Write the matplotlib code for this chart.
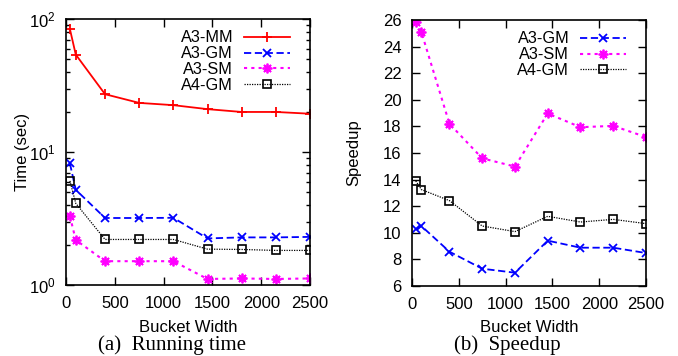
import matplotlib
matplotlib.use("Agg")
import matplotlib.pyplot as plt
from matplotlib.ticker import LogLocator, NullFormatter, MultipleLocator

plt.rcParams['font.family'] = ['Liberation Sans', 'DejaVu Sans']
plt.rcParams['mathtext.fontset'] = 'custom'
plt.rcParams['mathtext.rm'] = 'Liberation Sans'
plt.rcParams['mathtext.it'] = 'Liberation Sans:italic'
plt.rcParams['mathtext.bf'] = 'Liberation Sans:bold'

bucket = [40, 100, 400, 750, 1100, 1450, 1800, 2150, 2500]

time_a3_mm = [84, 54, 27.2, 23.4, 22.5, 21.0, 20.0, 20.0, 19.4]
time_a3_gm = [8.2, 5.2, 3.19, 3.19, 3.2, 2.24, 2.28, 2.28, 2.3]
time_a3_sm = [3.29, 2.18, 1.51, 1.51, 1.51, 1.11, 1.12, 1.11, 1.12]
time_a4_gm = [6.06, 4.11, 2.2, 2.2, 2.2, 1.86, 1.85, 1.82, 1.82]

speed_a3_gm = [10.26, 10.51, 8.58, 7.3, 7.0, 9.41, 8.88, 8.88, 8.48]
speed_a3_sm = [25.85, 25.1, 18.2, 15.6, 14.98, 18.97, 17.94, 18.04, 17.2]
speed_a4_gm = [13.9, 13.25, 12.42, 10.51, 10.09, 11.24, 10.81, 11.01, 10.69]

xticks = [0, 500, 1000, 1500, 2000, 2500]

fig = plt.figure(figsize=(6.78, 3.56), dpi=100)
ax1 = fig.add_axes([66/678, 1-285/356, (310-66)/678, (285-19)/356])
ax2 = fig.add_axes([412/678, 1-286/356, (646-412)/678, (286-20)/356])

star = (8, 2, 0)
sq = dict(marker='s', fillstyle='none', markersize=6, markeredgewidth=1.2)

ax1.plot(bucket, time_a3_mm, color='#ff0000', ls='-', lw=1.3, marker='+', ms=7, mew=1.3, label='A3-MM')
ax1.plot(bucket, time_a3_gm, color='#0000ff', ls=(0, (4, 2)), lw=1.3, marker='x', ms=6, mew=1.3, label='A3-GM')
ax1.plot(bucket, time_a3_sm, color='#ff00ff', ls=(0, (1.5, 2)), lw=1.5, marker=star, ms=7, mew=1.3, label='A3-SM')
ax1.plot(bucket, time_a4_gm, color='black', ls=(0, (1, 1)), lw=0.9, label='A4-GM', **sq)

ax1.set_yscale('log')
ax1.set_ylim(1, 100)
ax1.set_xlim(0, 2500)
ax1.set_xticks(xticks)
ax1.yaxis.set_minor_locator(LogLocator(base=10, subs=range(2, 10)))
ax1.yaxis.set_minor_formatter(NullFormatter())
ax1.set_xlabel('Bucket Width', fontsize=12)
ax1.set_ylabel('Time (sec)', fontsize=12)
ax1.xaxis.set_label_coords(0.5, -0.130)
ax1.yaxis.set_label_coords(-0.1475, 0.5)

ax2.plot(bucket, speed_a3_gm, color='#0000ff', ls=(0, (4, 2)), lw=1.3, marker='x', ms=6, mew=1.3, label='A3-GM')
ax2.plot(bucket, speed_a3_sm, color='#ff00ff', ls=(0, (1.5, 2)), lw=1.5, marker=star, ms=7, mew=1.3, label='A3-SM')
ax2.plot(bucket, speed_a4_gm, color='black', ls=(0, (1, 1)), lw=0.9, label='A4-GM', **sq)
ax2.set_xlim(0, 2500)
ax2.set_ylim(6, 26)
ax2.set_xticks(xticks)
ax2.yaxis.set_major_locator(MultipleLocator(2))
ax2.set_xlabel('Bucket Width', fontsize=12)
ax2.set_ylabel('Speedup', fontsize=12)
ax2.xaxis.set_label_coords(0.5, -0.126)
ax2.yaxis.set_label_coords(-0.218, 0.5)

for ax, anchor in ((ax1, (0.918, 0.957)), (ax2, (0.915, 0.957))):
    ax.tick_params(which='both', direction='in', top=True, right=True, labelsize=12)
    ax.tick_params(axis='x', which='major', pad=8)
    ax.tick_params(axis='y', which='major', pad=7.5)
    ax.tick_params(which='major', length=6, width=1)
    ax.tick_params(which='minor', length=3, width=1)
    for s in ax.spines.values():
        s.set_linewidth(1.2)
    ax.legend(loc='upper right', bbox_to_anchor=anchor, frameon=False, markerfirst=False,
              fontsize=11.7, handlelength=2.85, labelspacing=0.05, borderaxespad=0,
              borderpad=0, handletextpad=0.65)

fig.text(172/678, 1-345/356, '(a)  Running time', ha='center', va='center', fontsize=15, family='Liberation Serif')
fig.text(507/678, 1-345/356, '(b)  Speedup', ha='center', va='center', fontsize=15, family='Liberation Serif')

fig.savefig('out.png', dpi=100)
